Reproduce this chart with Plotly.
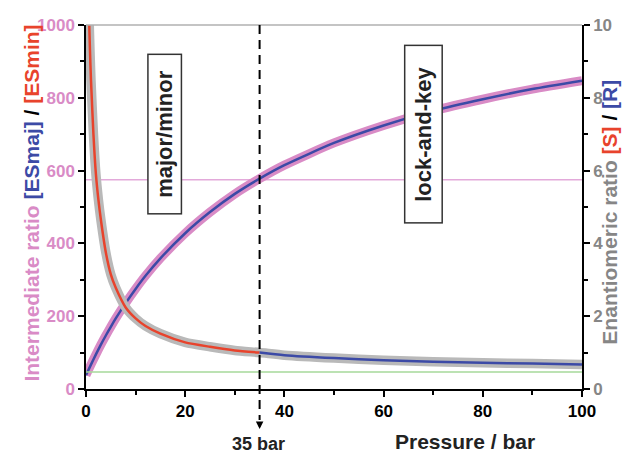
import plotly.graph_objects as go

# ---- data ----
pressure_inc = [0, 1, 2, 3, 4, 5, 6, 8, 10, 12, 15, 20, 25, 30, 35, 40, 50, 60, 70, 80, 90, 100]
intermediate_ratio = [38, 67, 95, 122, 147, 171, 194, 236, 275, 311, 359, 428, 486, 536, 578, 615, 676, 724, 764, 796, 824, 847]

pressure_dec = [0.4, 0.6, 0.8, 1, 1.5, 2, 2.5, 3, 4, 5, 6, 8, 10, 12, 15, 20, 25, 30, 35,
                40, 50, 60, 70, 80, 90, 100]
enantiomeric_ratio = [12.0, 10.3, 9.3, 8.5, 7.0, 5.9, 5.2, 4.65, 3.75, 3.15, 2.78, 2.24, 1.94, 1.73, 1.52, 1.28, 1.16, 1.06, 1.0,
                      0.93, 0.85, 0.79, 0.75, 0.72, 0.70, 0.67]
switch_pressure = 35
ref_intermediate = 575
ref_enantiomeric = 0.47

x_ticks = [0, 20, 40, 60, 80, 100]
left_ticks = [0, 200, 400, 600, 800, 1000]
right_ticks = [0, 2, 4, 6, 8, 10]

PINK = "#d98bc6"
PINK_LIGHT = "#e3a9da"
BLUE = "#3c4aa6"
RED = "#e8432c"
GRAY = "#b9b9b9"
GRAY_TXT = "#868686"
GREEN = "#a6d89a"
FONT = "Liberation Sans"

dec_red_x = [p for p in pressure_dec if p <= switch_pressure]
dec_red_y = [v for p, v in zip(pressure_dec, enantiomeric_ratio) if p <= switch_pressure]
dec_blue_x = [p for p in pressure_dec if p >= switch_pressure]
dec_blue_y = [v for p, v in zip(pressure_dec, enantiomeric_ratio) if p >= switch_pressure]

fig = go.Figure()
# reference lines
fig.add_trace(go.Scatter(x=[0, 100], y=[ref_intermediate, ref_intermediate], mode="lines",
                         line=dict(color=PINK_LIGHT, width=1.5), yaxis="y"))
fig.add_trace(go.Scatter(x=[0, 100], y=[ref_enantiomeric, ref_enantiomeric], mode="lines",
                         line=dict(color=GREEN, width=1.5), yaxis="y2"))
# enantiomeric ratio (right axis)
fig.add_trace(go.Scatter(x=pressure_dec, y=enantiomeric_ratio, mode="lines",
                         line=dict(color=GRAY, width=9.5, shape="spline", smoothing=0.6), yaxis="y2"))
fig.add_trace(go.Scatter(x=dec_red_x, y=dec_red_y, mode="lines",
                         line=dict(color=RED, width=2.5, shape="spline", smoothing=0.6), yaxis="y2"))
fig.add_trace(go.Scatter(x=dec_blue_x, y=dec_blue_y, mode="lines",
                         line=dict(color=BLUE, width=2.5, shape="spline", smoothing=0.6), yaxis="y2"))
# intermediate ratio (left axis)
fig.add_trace(go.Scatter(x=pressure_inc, y=intermediate_ratio, mode="lines",
                         line=dict(color=PINK, width=9, shape="spline", smoothing=0.6), yaxis="y"))
fig.add_trace(go.Scatter(x=pressure_inc, y=intermediate_ratio, mode="lines",
                         line=dict(color=BLUE, width=2.5, shape="spline", smoothing=0.6), yaxis="y"))

tick_common = dict(showgrid=False, zeroline=False, showline=True, linecolor="black", linewidth=1.5,
                   ticks="outside", ticklen=6, tickwidth=1.5, tickcolor="black")

fig.update_layout(
    width=634, height=455, margin=dict(l=86, r=52, t=25, b=66),
    paper_bgcolor="white", plot_bgcolor="white", showlegend=False,
    xaxis=dict(range=[0, 100], tickvals=x_ticks, **tick_common,
               minor=dict(dtick=10, ticks="outside", ticklen=4, tickwidth=1.5, tickcolor="black"),
               tickfont=dict(family=FONT, size=17, color="black", weight="bold")),
    yaxis=dict(range=[0, 1000], tickvals=left_ticks, **tick_common,
               minor=dict(dtick=100, ticks="outside", ticklen=4, tickwidth=1.5, tickcolor="black"),
               tickfont=dict(family=FONT, size=17, color=PINK, weight="bold")),
    yaxis2=dict(range=[0, 10], tickvals=right_ticks, overlaying="y", side="right", **tick_common,
                minor=dict(dtick=1, ticks="outside", ticklen=4, tickwidth=1.5, tickcolor="black"),
                tickfont=dict(family=FONT, size=17, color=GRAY_TXT, weight="bold")),
)

# top frame line
fig.add_shape(type="line", xref="paper", yref="paper", x0=0, x1=1, y0=1, y1=1,
              line=dict(color="#b0b0b0", width=1.5))
# dashed 35 bar line
fig.add_shape(type="line", xref="x", yref="paper", x0=switch_pressure, x1=switch_pressure,
              y0=1, y1=-0.085, line=dict(color="black", width=2, dash="9px,6px"))

annotations = [
    dict(x=switch_pressure, y=-0.11, xref="x", yref="paper", text="", showarrow=True,
         arrowhead=2, arrowsize=1, arrowwidth=1.5, ax=0, ay=-8, arrowcolor="black"),
    dict(x=switch_pressure - 0.3, y=-0.152, xref="x", yref="paper", text="<b>35 bar</b>",
         showarrow=False, font=dict(family=FONT, size=18, color="#222"), yanchor="middle"),
    dict(x=76.5, y=-0.145, xref="x", yref="paper", text="<b>Pressure / bar</b>",
         showarrow=False, font=dict(family=FONT, size=21, color="#222"), yanchor="middle"),
    dict(x=15.8, y=700, xref="x", yref="y", text="<b>major/minor</b>", textangle=-90,
         showarrow=False, font=dict(family=FONT, size=22, color="#222"),
         bgcolor="white", bordercolor="#333", borderwidth=1.5, borderpad=3, width=152, height=26),
    dict(x=68.1, y=701, xref="x", yref="y", text="<b>lock-and-key</b>", textangle=-90,
         showarrow=False, font=dict(family=FONT, size=22, color="#222"),
         bgcolor="white", bordercolor="#333", borderwidth=1.5, borderpad=3, width=170, height=30),
    dict(x=-0.137, y=0.511, xref="paper", yref="paper", textangle=-90, showarrow=False,
         text=(f"<b><span style='color:{PINK}'>Intermediate ratio </span>"
               f"<span style='color:{BLUE}'>[ESmaj]</span> / <span style='color:{RED}'>[ESmin]</span></b>"),
         font=dict(family=FONT, size=21, color="black")),
    dict(x=1.082, y=0.485, xref="paper", yref="paper", textangle=-90, showarrow=False,
         text=(f"<b><span style='color:{GRAY_TXT}'>Enantiomeric ratio </span>"
               f"<span style='color:{RED}'>[S]</span> / <span style='color:{BLUE}'>[R]</span></b>"),
         font=dict(family=FONT, size=21, color="black")),
]
fig.update_layout(annotations=annotations)

fig.write_html("out.html")
